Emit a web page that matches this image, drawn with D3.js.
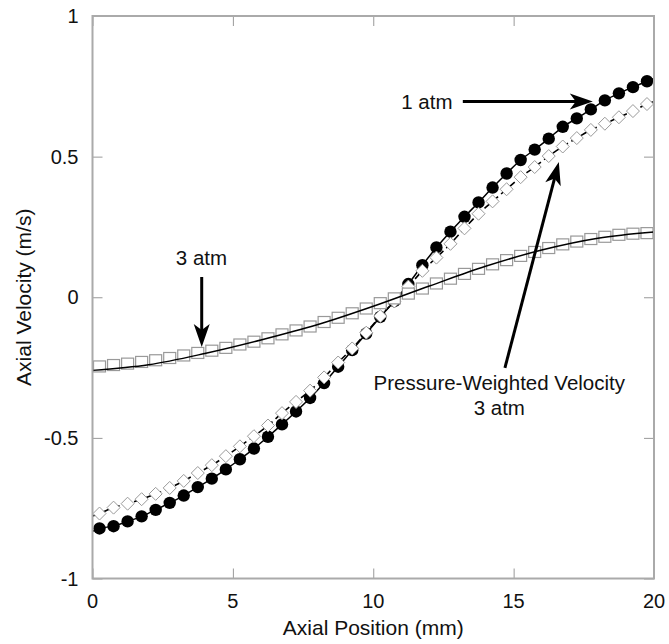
<!DOCTYPE html>
<html>
<head>
<meta charset="utf-8">
<script src="https://cdnjs.cloudflare.com/ajax/libs/d3/7.8.5/d3.min.js"></script>
<style>
body { margin: 0; background: #fff; }
text { font-family: "Liberation Sans", Arial, sans-serif; fill: #111; }
</style>
</head>
<body>
<div id="chart"></div>
<script>
// marker positions along the axis (mm)
var axialPos = [0.25, 0.75, 1.25, 1.75, 2.25, 2.75, 3.25, 3.75, 4.25, 4.75,
                5.25, 5.75, 6.25, 6.75, 7.25, 7.75, 8.25, 8.75, 9.25, 9.75,
                10.25, 10.75, 11.25, 11.75, 12.25, 12.75, 13.25, 13.75, 14.25, 14.75,
                15.25, 15.75, 16.25, 16.75, 17.25, 17.75, 18.25, 18.75, 19.25, 19.75];

// 1 atm (filled circles)
var vel1atm = [-0.822, -0.814, -0.797, -0.779, -0.756, -0.731, -0.705, -0.675, -0.645, -0.612,
               -0.576, -0.538, -0.496, -0.452, -0.406, -0.358, -0.305, -0.247, -0.188, -0.129,
               -0.070, -0.014, 0.047, 0.114, 0.177, 0.233, 0.286, 0.337, 0.390, 0.440,
               0.488, 0.525, 0.564, 0.606, 0.636, 0.668, 0.700, 0.725, 0.747, 0.768];

// pressure-weighted velocity, 3 atm (open diamonds)
var velPW = [-0.769, -0.748, -0.734, -0.718, -0.699, -0.678, -0.653, -0.625, -0.597, -0.565,
             -0.530, -0.494, -0.456, -0.412, -0.372, -0.332, -0.285, -0.232, -0.182, -0.126,
             -0.067, -0.015, 0.038, 0.094, 0.141, 0.190, 0.245, 0.297, 0.341, 0.384,
             0.427, 0.463, 0.502, 0.536, 0.566, 0.595, 0.617, 0.640, 0.662, 0.687];

// 3 atm (open squares)
var vel3atm = [-0.246, -0.241, -0.236, -0.230, -0.224, -0.216, -0.207, -0.198, -0.190, -0.180,
               -0.168, -0.158, -0.146, -0.132, -0.118, -0.104, -0.088, -0.073, -0.057, -0.040,
               -0.021, -0.004, 0.013, 0.031, 0.049, 0.066, 0.083, 0.101, 0.117, 0.132,
               0.147, 0.161, 0.175, 0.188, 0.198, 0.207, 0.215, 0.222, 0.226, 0.228];

// line end values at x = 0 and x = 20
var lineEndPos = [0, 20];
var vel1atmEnds = [-0.832, 0.778];
var velPWEnds = [-0.778, 0.695];

// solid curve for 3 atm
var line3atmPos = [0, 2, 4, 6, 8, 10, 12, 14, 16, 18, 20];
var line3atmVel = [-0.26, -0.24, -0.2, -0.152, -0.098, -0.032, 0.04, 0.11, 0.168, 0.21, 0.232];

var xTicks = [0, 5, 10, 15, 20];
var yTicks = [-1, -0.5, 0, 0.5, 1];
var yTickLabels = ["-1", "-0.5", "0", "0.5", "1"];

var margin = {top: 16, left: 92.5, right: 15, bottom: 65.5};
var width = 669 - margin.left - margin.right;
var height = 644 - margin.top - margin.bottom;

var svg = d3.select("#chart")
    .append("svg")
    .attr("width", 669)
    .attr("height", 644)
    .append("g")
    .attr("transform", "translate(" + margin.left + "," + margin.top + ")");

var x = d3.scaleLinear().domain([0, 20]).range([0, width]);
var y = d3.scaleLinear().domain([-1, 1]).range([height, 0]);

// ticks on all four sides, pointing inward
var tickColor = "#999";
function tidy(g) {
    g.select(".domain").remove();
    g.selectAll("line").attr("stroke", tickColor);
}
svg.append("g")
    .attr("transform", "translate(0," + height + ")")
    .call(d3.axisBottom(x).tickValues(xTicks).tickSize(-10).tickFormat(""))
    .call(tidy);
svg.append("g")
    .call(d3.axisTop(x).tickValues(xTicks).tickSize(-10).tickFormat(""))
    .call(tidy);
svg.append("g")
    .call(d3.axisLeft(y).tickValues(yTicks).tickSize(-10).tickFormat(""))
    .call(tidy);
svg.append("g")
    .attr("transform", "translate(" + width + ",0)")
    .call(d3.axisRight(y).tickValues(yTicks).tickSize(-10).tickFormat(""))
    .call(tidy);

// tick labels
svg.selectAll(".xlab")
    .data(xTicks)
    .enter()
    .append("text")
    .attr("x", function(d) { return x(d); })
    .attr("y", height + 29)
    .attr("text-anchor", "middle")
    .style("font-size", "20px")
    .text(function(d) { return d; });

svg.selectAll(".ylab")
    .data(yTicks)
    .enter()
    .append("text")
    .attr("x", -14)
    .attr("y", function(d) { return y(d); })
    .attr("dy", "0.36em")
    .attr("text-anchor", "end")
    .style("font-size", "20px")
    .text(function(d, i) { return yTickLabels[i]; });

// axis titles
svg.append("text")
    .attr("x", width / 2)
    .attr("y", height + 56)
    .attr("text-anchor", "middle")
    .style("font-size", "21px")
    .text("Axial Position (mm)");

svg.append("text")
    .attr("transform", "translate(-61.5," + (height / 2) + ") rotate(-90)")
    .attr("text-anchor", "middle")
    .style("font-size", "21px")
    .text("Axial Velocity (m/s)");

var line = d3.line()
    .x(function(d) { return x(d[0]); })
    .y(function(d) { return y(d[1]); })
    .curve(d3.curveMonotoneX);

function withEnds(vals, ends) {
    var pts = axialPos.map(function(p, i) { return [p, vals[i]]; });
    pts.unshift([lineEndPos[0], ends[0]]);
    pts.push([lineEndPos[1], ends[1]]);
    return pts;
}

// 1 atm
svg.append("path")
    .attr("d", line(withEnds(vel1atm, vel1atmEnds)))
    .style("fill", "none")
    .style("stroke", "#000")
    .style("stroke-width", 1.5);

svg.selectAll(".c1")
    .data(vel1atm)
    .enter()
    .append("circle")
    .attr("cx", function(d, i) { return x(axialPos[i]); })
    .attr("cy", function(d) { return y(d); })
    .attr("r", 6.2)
    .style("fill", "#000");

// pressure-weighted, dashed
svg.append("path")
    .attr("d", line(withEnds(velPW, velPWEnds)))
    .style("fill", "none")
    .style("stroke", "#000")
    .style("stroke-width", 1.6)
    .style("stroke-dasharray", "7,4");

svg.selectAll(".dm")
    .data(velPW)
    .enter()
    .append("path")
    .attr("transform", function(d, i) { return "translate(" + x(axialPos[i]) + "," + y(d) + ")"; })
    .attr("d", "M0,-6.5L6.5,0L0,6.5L-6.5,0Z")
    .style("fill", "#fff")
    .style("stroke", "#999")
    .style("stroke-width", 1);

// 3 atm squares, line on top
svg.selectAll(".sq")
    .data(vel3atm)
    .enter()
    .append("rect")
    .attr("x", function(d, i) { return x(axialPos[i]) - 6; })
    .attr("y", function(d) { return y(d) - 5.5; })
    .attr("width", 12)
    .attr("height", 11)
    .style("fill", "#fff")
    .style("stroke", "#999")
    .style("stroke-width", 1.2);

svg.append("path")
    .attr("d", line(line3atmPos.map(function(p, i) { return [p, line3atmVel[i]]; })))
    .style("fill", "none")
    .style("stroke", "#000")
    .style("stroke-width", 1.5);

// frame
svg.append("rect")
    .attr("width", width)
    .attr("height", height)
    .style("fill", "none")
    .style("stroke", "#aaa")
    .style("stroke-width", 2);

// annotations with arrows
function Arrow(x1, y1, x2, y2) {
    var ax = x(x1), ay = y(y1), bx = x(x2), by = y(y2);
    var ang = Math.atan2(by - ay, bx - ax);
    var c = Math.cos(ang), s = Math.sin(ang);
    svg.append("line")
        .attr("x1", ax).attr("y1", ay)
        .attr("x2", bx - 14 * c).attr("y2", by - 14 * s)
        .style("stroke", "#000")
        .style("stroke-width", 3);
    var pts = [[0, 0], [-23, -8], [-17, 0], [-23, 8]].map(function(p) {
        return [bx + p[0] * c - p[1] * s, by + p[0] * s + p[1] * c];
    });
    svg.append("path")
        .attr("d", "M" + pts.join("L") + "Z")
        .style("fill", "#000");
}

function Label(px, py, txt) {
    svg.append("text")
        .attr("x", x(px))
        .attr("y", y(py))
        .attr("text-anchor", "middle")
        .style("font-size", "20.5px")
        .text(txt);
}

Label(11.91, 0.669, "1 atm");
Arrow(13.19, 0.696, 17.82, 0.696);

Label(3.88, 0.115, "3 atm");
Arrow(3.89, 0.072, 3.89, -0.177);

Label(14.49, -0.33, "Pressure-Weighted Velocity");
Label(14.49, -0.419, "3 atm");
Arrow(14.69, -0.251, 16.61, 0.481);
</script>
</body>
</html>
